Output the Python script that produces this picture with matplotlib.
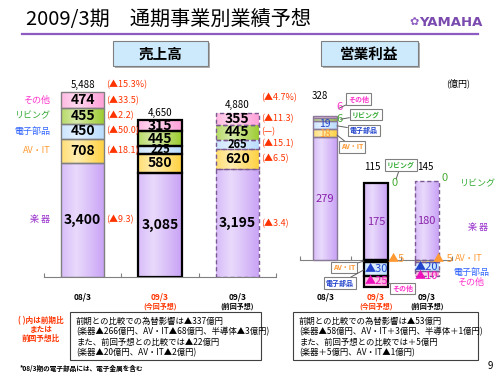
import numpy as np
import matplotlib.pyplot as plt
from matplotlib.patches import Rectangle

plt.rcParams['font.family'] = ['Noto Sans CJK JP', 'DejaVu Sans']

W, H = 500, 375

# ---- data ----
periods = ['08/3', '09/3', '09/3']
period_notes = ['', '(今回予想)', '(前回予想)']
seg_names = ['楽 器', 'AV・IT', '電子部品', 'リビング', 'その他']

sales_gakki = [3400, 3085, 3195]
sales_avit = [708, 580, 620]
sales_denshi = [450, 225, 265]
sales_living = [455, 445, 445]
sales_other = [474, 315, 355]
sales_total = [5488, 4650, 4880]
sales_chg_prev = ['(▲9.3)', '(▲18.1)', '(▲50.0)', '(▲2.2)', '(▲33.5)']
sales_chg_prev_total = '(▲15.3%)'
sales_chg_fcst = ['(▲3.4)', '(▲6.5)', '(▲15.1)', '(—)', '(▲11.3)']
sales_chg_fcst_total = '(▲4.7%)'

op_gakki = [279, 175, 180]
op_avit = [18, -5, -5]
op_denshi = [19, -30, -20]
op_living = [6, 0, 0]
op_other = [6, -25, -10]
op_total = [328, 115, 145]

box_left = ['前期との比較での為替影響は▲337億円',
            '(楽器▲266億円、AV・IT▲68億円、半導体▲3億円)',
            'また、前回予想との比較では▲22億円',
            '(楽器▲20億円、AV・IT▲2億円)']
box_right = ['前期との比較での為替影響は▲53億円',
             '(楽器▲58億円、AV・IT＋3億円、半導体＋1億円)',
             'また、前回予想との比較では＋5億円',
             '(楽器＋5億円、AV・IT▲1億円)']

seg_colors = ['#c9a3f6', '#ffd23f', '#b9dcff', '#9ccc2e', '#ff9fd8']
txt_colors = ['#9933cc', '#ff9933', '#3366ff', '#33aa33', '#ff33cc']
red = '#ff3300'
purple = '#8e5bc1'


def fx(x):
    return x / W


def fy(y):
    return 1 - y / H


def shade(ax, patch):
    x0, y0 = patch.get_x(), patch.get_y()
    w, h = patch.get_width(), patch.get_height()
    t = np.linspace(0, 1, 60)
    img = np.ones((1, 60, 4))
    img[..., 3] = np.clip(0.6 * (1 - np.abs(t - 0.35) / 0.65), 0, 1)
    im = ax.imshow(img, extent=[x0, x0 + w, min(y0, y0 + h), max(y0, y0 + h)],
                   aspect='auto', zorder=2.2, interpolation='bilinear')
    im.set_clip_path(patch)


def stack(ax, x, vals, width, ec, lw, ls):
    pos, neg = 0, 0
    out = []
    for v, c in zip(vals, seg_colors):
        if v == 0:
            out.append(None)
            continue
        if v > 0:
            b = pos
            pos += v
        else:
            b = neg
            neg += v
        p = ax.bar(x, v, width, bottom=b, color=c, zorder=2)[0]
        shade(ax, p)
        ax.bar(x, v, width, bottom=b, fill=False, edgecolor=ec, lw=lw, ls=ls, zorder=3)
        out.append(b + v / 2)
    return out


fig = plt.figure(figsize=(5, 3.75), dpi=100)

# header
fig.text(fx(26), fy(19), '2009/3期　通期事業別業績予想', fontsize=14.5, va='center', ha='left')
fig.add_artist(plt.Line2D([fx(22), fx(478)], [fy(34), fy(34)], color=purple, lw=1.6))
fig.text(fx(414), fy(22), '✿', fontsize=8, color=purple, ha='center', va='center', family='DejaVu Sans')
fig.text(fx(451), fy(22), 'YAMAHA', fontsize=9.5, color='#7a4aaf', weight='bold', ha='center', va='center',
         family='DejaVu Sans')
for x0, w, t in [(113, 95, '売上高'), (321, 97, '営業利益')]:
    fig.add_artist(Rectangle((fx(x0 + 2), fy(68)), fx(w), 25 / H, fc='#b0b0b0', ec='none'))
    fig.add_artist(Rectangle((fx(x0), fy(66)), fx(w), 25 / H, fc='#cdeafc', ec='#7f7f7f', lw=0.8))
    fig.text(fx(x0 + w / 2), fy(54), t, fontsize=10.5, weight='bold', ha='center', va='center')

# ---- sales ----
ax1 = fig.add_axes([fx(44), fy(277), fx(232), 202 / H])
sales = [sales_gakki, sales_avit, sales_denshi, sales_living, sales_other]
styles = [('#808080', 1.0, '-'), ('black', 1.6, '-'), ('#7a5a90', 1.0, (0, (3, 2)))]
for i in range(3):
    vals = [s[i] for s in sales]
    ec, lw, ls = styles[i]
    mids = stack(ax1, i, vals, 0.56, ec, lw, ls)
    for v, m in zip(vals, mids):
        fs = 10 if v > 300 else 8
        ax1.text(i, m, f'{v:,}', ha='center', va='center', fontsize=fs, weight='bold', zorder=4)
    ax1.text(i, sales_total[i] + 80, f'{sales_total[i]:,}', ha='center', va='bottom', fontsize=7)
mids0 = np.cumsum([0] + [s[0] for s in sales])[:-1] + np.array([s[0] for s in sales]) / 2
mids2 = np.cumsum([0] + [s[2] for s in sales])[:-1] + np.array([s[2] for s in sales]) / 2
for k in range(5):
    ax1.text(-0.42, mids0[k], seg_names[k], ha='right', va='center', fontsize=6.5, color=txt_colors[k], clip_on=False)
    ax1.text(0.3, mids0[k], sales_chg_prev[k], ha='left', va='center', fontsize=6.5, color=red)
    ax1.text(2.31, mids2[k], sales_chg_fcst[k], ha='left', va='center', fontsize=6.5, color=red, clip_on=False)
ax1.text(0.3, sales_total[0] + 230, sales_chg_prev_total, ha='left', va='center', fontsize=6.5, color=red)
ax1.text(2.31, sales_total[2] + 440, sales_chg_fcst_total, ha='left', va='center', fontsize=6.5, color=red,
         clip_on=False)
ax1.set_xlim(-0.5, 2.5)
ax1.set_ylim(0, 6000)

# ---- operating profit ----
ax2 = fig.add_axes([fx(300), fy(291), fx(152), 207 / H])
ops = [op_gakki, op_avit, op_denshi, op_living, op_other]
op_mids = []
for i in range(3):
    vals = [s[i] for s in ops]
    ec, lw, ls = styles[i]
    if i == 0:
        ec = '#8a7a9a'
    op_mids.append(stack(ax2, i, vals, 0.47, ec, lw, ls))


def lab(v):
    return f'{v}' if v >= 0 else f'▲{-v}'


# bar 1
ax2.text(0, op_mids[0][0], lab(op_gakki[0]), ha='center', va='center', fontsize=8, color='#8822aa', zorder=4)
ax2.text(0, op_mids[0][1] - 2, lab(op_avit[0]), ha='center', va='center', fontsize=7.5, color='#ff9933', zorder=4)
ax2.text(0, op_mids[0][2] + 2, lab(op_denshi[0]), ha='center', va='center', fontsize=7.5, color='#2244cc', zorder=4)
ax2.text(0.28, 320, lab(op_living[0]), ha='center', va='center', fontsize=8, color='#44aa33', zorder=4)
ax2.text(0.28, 347, lab(op_other[0]), ha='center', va='center', fontsize=8, color='#ff33cc', zorder=4)
ax2.text(-0.1, op_total[0] + 45, f'{op_total[0]}', ha='center', va='center', fontsize=7)

# bar 2
ax2.text(1, op_mids[1][0], lab(op_gakki[1]), ha='center', va='center', fontsize=8, color='#8822aa', zorder=4)
ax2.text(1, op_mids[1][2], lab(op_denshi[1]), ha='center', va='center', fontsize=8, color='#2244cc', zorder=4)
ax2.text(1, op_mids[1][4], lab(op_other[1]), ha='center', va='center', fontsize=8, color='#ee11bb', zorder=4)
ax2.text(1.41, 3, lab(op_avit[1]), ha='center', va='center', fontsize=8, color='#ff9933')
ax2.text(1.37, 175, lab(op_living[1]), ha='center', va='center', fontsize=8, color='#44aa33')
ax2.text(0.92, op_total[1] + 96, f'{op_total[1]}', ha='center', va='center', fontsize=7)

# bar 3
ax2.text(2, op_mids[2][0], lab(op_gakki[2]), ha='center', va='center', fontsize=8, color='#8822aa', zorder=4)
ax2.text(2, op_mids[2][2], lab(op_denshi[2]), ha='center', va='center', fontsize=8, color='#2244cc', zorder=4)
ax2.text(2, op_mids[2][4] - 5, lab(op_other[2]), ha='center', va='center', fontsize=8, color='#ee11bb', zorder=4)
ax2.text(2.32, 3, '▲ 5', ha='center', va='center', fontsize=8, color='#ff9933', clip_on=False)
ax2.text(2.36, 186, lab(op_living[2]), ha='center', va='center', fontsize=8, color='#44aa33')
ax2.text(1.97, op_total[2] + 66, f'{op_total[2]}', ha='center', va='center', fontsize=7)

ax2.text(2.99, 173, 'リビング', ha='center', va='center', fontsize=6.5, color=txt_colors[3], clip_on=False)
ax2.text(3.01, 75, '楽 器', ha='center', va='center', fontsize=6.5, color=txt_colors[0], clip_on=False)
ax2.text(2.84, 3, 'AV・IT', ha='center', va='center', fontsize=6.5, color=txt_colors[1], clip_on=False)
ax2.text(2.89, -27, '電子部品', ha='center', va='center', fontsize=6.5, color=txt_colors[2], clip_on=False)
ax2.text(2.86, -50, 'その他', ha='center', va='center', fontsize=6.5, color=txt_colors[4], clip_on=False)
ax2.text(2.62, 402, '(億円)', ha='center', va='center', fontsize=6.5, clip_on=False)

callouts = [('その他', (0.27, 345), (0.66, 366), txt_colors[4]),
            ('リビング', (0.30, 320), (0.80, 330), txt_colors[3]),
            ('電子部品', (0.23, 305), (0.76, 295), '#2244cc'),
            ('AV・IT', (0.23, 284), (0.53, 257), '#ff9933'),
            ('リビング', (1.40, 185), (1.49, 216), txt_colors[3]),
            ('AV・IT', (0.76, -2), (0.37, -16), '#ff9933'),
            ('電子部品', (0.76, -22), (0.29, -52), '#2244cc'),
            ('その他', (1.24, -52), (1.53, -64), txt_colors[4])]
for t, xy, xyt, c in callouts:
    ax2.annotate(t, xy=xy, xytext=xyt, fontsize=5, color=c, weight='bold', ha='center', va='center',
                 bbox=dict(boxstyle='square,pad=0.3', fc='white', ec='#808080', lw=0.8),
                 arrowprops=dict(arrowstyle='-', color='#606060', lw=0.7, shrinkA=0, shrinkB=0),
                 annotation_clip=False, zorder=5)
ax2.set_xlim(-0.5, 2.5)
ax2.set_ylim(-70, 400)

# category labels: (axes, y of period label, y of note)
for ax, ylab, ynote in [(ax1, -590, -860), (ax2, -84, -104)]:
    for s in ['top', 'right', 'left']:
        ax.spines[s].set_visible(False)
    ax.spines['bottom'].set_position(('data', 0))
    ax.spines['bottom'].set_color('#808080')
    ax.set_yticks([])
    ax.set_xticks([-0.5, 0.5, 1.5, 2.5])
    ax.tick_params(axis='x', direction='in', length=3, color='#808080', labelbottom=False)
    ax.patch.set_visible(False)
    for i in range(3):
        c = red if i == 1 else 'black'
        ax.text(i, ylab, periods[i], ha='center', va='center', fontsize=6, weight='bold', color=c, clip_on=False)
        ax.text(i, ynote, period_notes[i], ha='center', va='center', fontsize=5,
                weight='bold', color=c, clip_on=False)

# note boxes
for x0, x1, lines in [(70, 261, box_left), (293, 478, box_right)]:
    fig.add_artist(Rectangle((fx(x0), fy(360)), fx(x1 - x0), 48 / H, fc='white', ec='#404040', lw=0.8))
    for j, ln in enumerate(lines):
        fig.text(fx(x0 + 6), fy(321 + j * 10.5), ln, fontsize=6, va='center', ha='left')

for j, t in enumerate(['( )内は前期比', 'または', '前回予想比']):
    fig.text(fx(41), fy(321 + j * 8.5), t, fontsize=5.5, color=red, weight='bold', ha='center', va='center')
fig.text(fx(20), fy(368), '*08/3期の電子部品には、電子金属を含む', fontsize=4.8, weight='bold', va='center')
fig.text(fx(490), fy(366), '9', fontsize=7, ha='center', va='center')

fig.savefig('out.png', dpi=100)
